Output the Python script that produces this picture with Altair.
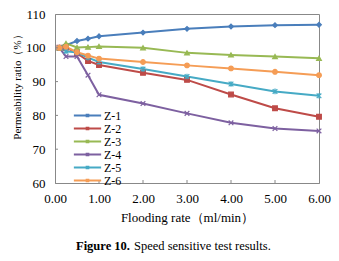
import altair as alt
import pandas as pd

rates = [0.1, 0.25, 0.5, 0.75, 1.0, 2.0, 3.0, 4.0, 5.0, 6.0]
z1 = [100, 100.8, 102.0, 102.7, 103.4, 104.5, 105.6, 106.3, 106.7, 106.8]
z2 = [100, 100.1, 98.4, 96.1, 94.9, 92.6, 90.5, 86.2, 82.1, 79.6]
z3 = [100, 101.3, 100.1, 100.2, 100.4, 100.0, 98.5, 97.9, 97.4, 96.9]
z4 = [100, 97.4, 97.4, 91.9, 86.1, 83.5, 80.6, 77.8, 76.1, 75.4]
z5 = [100, 99.0, 98.6, 97.1, 95.8, 93.7, 91.5, 89.3, 87.1, 85.8]
z6 = [100, 100.3, 98.7, 97.7, 96.8, 95.8, 94.8, 93.9, 92.9, 91.9]
series_names = ["Z-1", "Z-2", "Z-3", "Z-4", "Z-5", "Z-6"]
colors = ["#4A7EBB", "#BE4B48", "#98B954", "#7D60A0", "#46AAC5", "#F59D56"]
shapes = [
    "diamond",
    "square",
    "triangle-up",
    "M-1,-1L1,1M-1,1L1,-1",
    "M-1,-1L1,1M-1,1L1,-1M0,-1.2L0,1.2",
    "circle",
]
x_ticks = [0, 1, 2, 3, 4, 5, 6]
y_ticks = [60, 70, 80, 90, 100, 110]

rows = []
for name, vals in zip(series_names, [z1, z2, z3, z4, z5, z6]):
    for r, v in zip(rates, vals):
        rows.append({"rate": r, "ratio": v, "series": name, "marker": name})
df = pd.DataFrame(rows)

FONT = "Liberation Serif"

x_scale = alt.Scale(domain=[0, 6], nice=False, zero=False)
y_scale = alt.Scale(domain=[60, 110], nice=False, zero=False)

x_axis = alt.Axis(
    values=x_ticks, format=".2f", title="Flooding rate（ml/min）",
    grid=False, ticks=False, labelPadding=9, titlePadding=6,
    labelOverlap=False, labelFlush=False,
    labelFont=FONT, titleFont=FONT, labelFontSize=13, titleFontSize=13,
    titleFontWeight="normal", labelColor="#000", titleColor="#000",
    domainColor="#888",
)
y_axis = alt.Axis(
    values=y_ticks, format="d", title="Permeability ratio（%）",
    grid=False, ticks=False, labelPadding=10,
    titleX=-38, titleY=70, titleAngle=270, titleAlign="center", titleBaseline="middle",
    labelOverlap=False, labelFlush=False, labelBound=False,
    labelFont=FONT, titleFont=FONT, labelFontSize=13, titleFontSize=11,
    titleFontWeight="normal", labelColor="#000", titleColor="#000",
    domainColor="#888",
)

color_scale = alt.Scale(domain=series_names, range=colors)

base = alt.Chart(df).encode(
    x=alt.X("rate:Q", scale=x_scale, axis=x_axis),
    y=alt.Y("ratio:Q", scale=y_scale, axis=y_axis),
)

lines = base.mark_line(strokeWidth=2).encode(
    color=alt.Color(
        "series:N",
        scale=color_scale,
        legend=alt.Legend(
            title=None, orient="none", legendX=26, legendY=95,
            symbolType="M-2.48,0H2.48M-0.15,-0.15H0.15V0.15H-0.15Z",
            symbolSize=121, symbolStrokeWidth=2,
            labelFont=FONT, labelFontSize=12, labelColor="#000",
            labelOffset=10, rowPadding=0, padding=0,
        ),
    ),
)

points = base.mark_point(filled=True, size=22, strokeWidth=1.2, opacity=1).encode(
    fill=alt.Fill("marker:N", scale=color_scale, legend=None),
    stroke=alt.Stroke("marker:N", scale=color_scale, legend=None),
    shape=alt.Shape("marker:N", scale=alt.Scale(domain=series_names, range=shapes), legend=None),
)

ytick_df = pd.DataFrame({"v": y_ticks[1:-1]})
xtick_df = pd.DataFrame({"v": x_ticks[1:-1]})
yticks = alt.Chart(ytick_df).mark_rule(color="#888", strokeWidth=1).encode(
    y=alt.Y("v:Q", scale=y_scale, axis=y_axis), x=alt.value(0), x2=alt.value(3)
)
xticks = alt.Chart(xtick_df).mark_rule(color="#888", strokeWidth=1).encode(
    x=alt.X("v:Q", scale=x_scale, axis=x_axis), y=alt.value(169), y2=alt.value(166)
)

cap_df = pd.DataFrame({"part": ["Figure 10.", "Speed sensitive test results."]})
cap_bold = alt.Chart(cap_df).transform_filter("datum.part == 'Figure 10.'").mark_text(
    font=FONT, fontSize=12.5, fontWeight="bold", align="left", baseline="middle", color="#000"
).encode(text="part:N", x=alt.value(21), y=alt.value(232))
cap_norm = alt.Chart(cap_df).transform_filter("datum.part != 'Figure 10.'").mark_text(
    font=FONT, fontSize=12.5, align="left", baseline="middle", color="#000"
).encode(text="part:N", x=alt.value(79), y=alt.value(232))

chart = alt.layer(lines, points, yticks, xticks, cap_bold, cap_norm).properties(
    width=264, height=169,
    autosize=alt.AutoSizeParams(type="none"),
    padding={"left": 47, "top": 6, "right": 12, "bottom": 70},
    background="white",
).resolve_scale(color="independent").configure_view(stroke="#888", strokeWidth=1)

chart.save("out.html", embed_options={"renderer": "svg", "actions": False})
